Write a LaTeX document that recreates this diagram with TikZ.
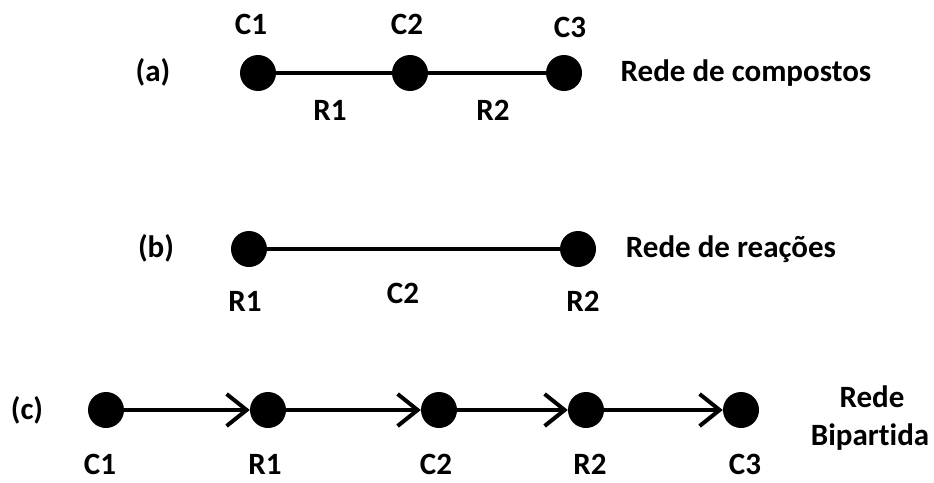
\documentclass[tikz,border=0pt]{standalone}
\usepackage{fontspec}
\setmainfont[Ligatures={NoCommon}]{Carlito}
\usetikzlibrary{arrows.meta}
\begin{document}
\begin{tikzpicture}[x=1pt,y=-1pt,
  dot/.style={circle,fill=black,inner sep=0pt,minimum size=36pt},
  lbl/.style={font=\fontsize{31}{36}\selectfont\bfseries,inner sep=0pt,anchor=center},
  edge/.style={line width=4pt},
  arr/.style={line width=4pt,-{Straight Barb[length=20pt,width=32pt,line width=4pt]}}]
\useasboundingbox (0,0) rectangle (934,482);
% (a)
\node[lbl] (la) at (153,72) {(a)};
\node[dot] (a1) at (258,73) {};
\node[dot] (a2) at (410,73) {};
\node[dot] (a3) at (564,73) {};
\draw[edge] (a1) -- (a2);
\draw[edge] (a2) -- (a3);
\node[lbl] (ta1) at (251,24) {C1};
\node[lbl] (ta2) at (407,24) {C2};
\node[lbl] (ta3) at (570,27) {C3};
\node[lbl] (tr1) at (330,110) {R1};
\node[lbl] (tr2) at (493,110) {R2};
\node[lbl] (na) at (746,73) {Rede de compostos};
% (b)
\node[lbl] (lb) at (156,248) {(b)};
\node[dot] (b1) at (249,249) {};
\node[dot] (b2) at (578,249) {};
\draw[edge] (b1) -- (b2);
\node[lbl] (tb1) at (245,301) {R1};
\node[lbl] (tbc) at (403,293) {C2};
\node[lbl] (tb2) at (583,301) {R2};
\node[lbl] (nb) at (731,249) {Rede de reações};
% (c)
\node[lbl] (lc) at (27,410) {(c)};
\node[dot] (c1) at (106,410) {};
\node[dot] (c2) at (268,410) {};
\node[dot] (c3) at (439,410) {};
\node[dot] (c4) at (586,410) {};
\node[dot] (c5) at (741,410) {};
\draw[arr] (c1) -- (c2);
\draw[arr] (c2) -- (c3);
\draw[arr] (c3) -- (c4);
\draw[arr] (c4) -- (c5);
\node[lbl] (tc1) at (100,464) {C1};
\node[lbl] (tc2) at (265,464) {R1};
\node[lbl] (tc3) at (436,464) {C2};
\node[lbl] (tc4) at (590,464) {R2};
\node[lbl] (tc5) at (745,464) {C3};
\node[lbl] (nc1) at (872,397) {Rede};
\node[lbl,anchor=base] (nc2) at (870,445) {Bipartida};
\end{tikzpicture}
\end{document}
